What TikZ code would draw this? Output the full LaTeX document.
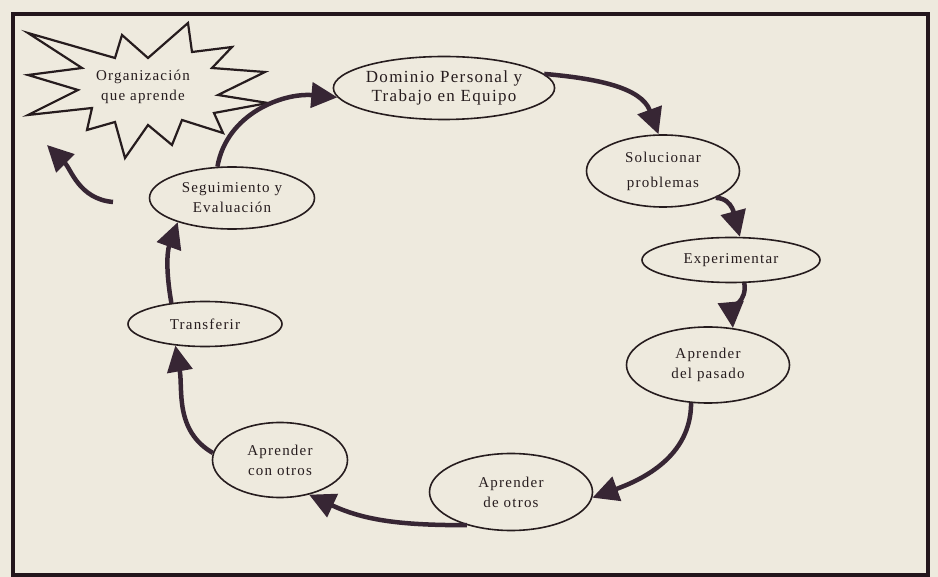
\documentclass[tikz,border=0pt]{standalone}
\usepackage{fontspec}
\setmainfont{Liberation Serif}[LetterSpace=8]
\usepackage{tikz}
\usetikzlibrary{%
	shapes,%
	arrows.meta%
}
\definecolor{fondo}{RGB}{238,234,222}
\definecolor{tinta}{RGB}{38,28,30}
\definecolor{flecha}{RGB}{55,38,52}
\definecolor{marco}{RGB}{35,22,28}

\tikzset{
	etapa/.style={ellipse, draw=tinta, line width=1.6pt, inner sep=0pt, align=center, text=tinta, font=\fontsize{15}{20}\selectfont},
	flechagruesa/.style={draw=flecha, line width=4.5pt, -{Triangle[length=26pt,width=25pt]}}
}

\begin{document}
\begin{tikzpicture}[x=1pt,y=-1pt]
		% Fondo y marco
		\fill[fondo] (0,0) rectangle (938,577);
		\useasboundingbox (0,0) rectangle (938,577);
		\draw[marco, line width=4pt] (13,14) rectangle (928,575);
		
		% Estrella
		\draw[tinta, line width=2.2pt, line join=miter, fill=fondo] (28,33) -- (115,58) -- (122,35) -- (148,58) -- (188,23) -- (192,52) -- (232,47) -- (212,68) -- (265,72) -- (218,95) -- (268,103) -- (214,113) -- (223,133) -- (182,120) -- (172,145) -- (148,125) -- (125,158) -- (115,122) -- (87,130) -- (92,108) -- (28,115) -- (78,90) -- (28,75) -- (82,68) -- cycle;
		\node[align=center, text=tinta, font=\fontsize{15}{20}\selectfont] (org) at (143,87) {Organización\\que aprende};
		
		% Etapas
		\node[etapa, minimum width=198pt, minimum height=63pt, font=\fontsize{17}{19}\selectfont] (dom) at (444,88) {Dominio Personal y\\Trabajo en Equipo};
		\node[etapa, minimum width=153pt, minimum height=72pt, font=\fontsize{15}{25}\selectfont] (sol) at (663,171) {Solucionar\\problemas};
		\node[etapa, minimum width=178pt, minimum height=45pt] (exp) at (731,260) {Experimentar};
		\node[etapa, minimum width=163pt, minimum height=76pt] (pas) at (708,365) {Aprender\\del pasado};
		\node[etapa, minimum width=163pt, minimum height=77pt] (deo) at (511,492) {Aprender\\de otros};
		\node[etapa, minimum width=135pt, minimum height=75pt] (con) at (280,460) {Aprender\\con otros};
		\node[etapa, minimum width=154pt, minimum height=45pt] (tra) at (205,324) {Transferir};
		\node[etapa, minimum width=165pt, minimum height=62pt] (seg) at (232,198) {Seguimiento y\\Evaluación};
		
		% Flechas del ciclo
		\foreach \desde/\hasta/\salida/\llegada in {seg.115/dom.185/80/175, dom.8/sol.97/-5/110, sol.-27/exp.69/0/105, exp.-60/pas.56/-80/95, pas.246/deo.-4/-90/20, deo.217/con.-50/180/-25, con.174/tra.216/150/-80, tra.148/seg.204/100/250}
		\draw[flechagruesa] (\desde) to[out=\salida,in=\llegada] (\hasta);
		
		% Flecha suelta
		\coordinate (libre) at (113,202);
		\coordinate (punta) at (47,145);
		\draw[flechagruesa] (libre) to[out=175,in=-45] (punta);
\end{tikzpicture}
\end{document}
